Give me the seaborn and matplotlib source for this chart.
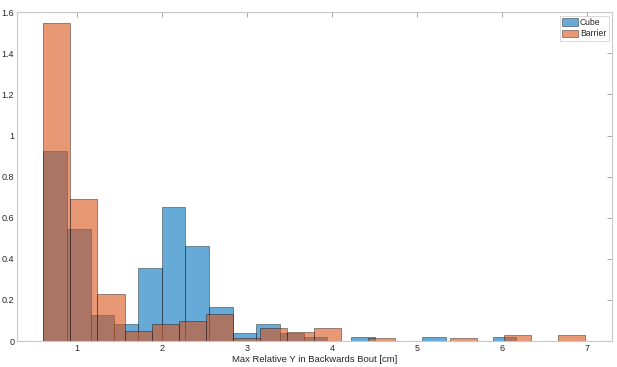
import numpy as np
import pandas as pd
import matplotlib
matplotlib.use('Agg')
import matplotlib.pyplot as plt
import seaborn as sns

# histogram bins (start and width per group), heights (pdf)
bin_start = 0.6
cube_width = 0.2787
barrier_width = 0.319
cube_heights = [0.925, 0.545, 0.127, 0.083, 0.357, 0.651, 0.462, 0.167, 0.040, 0.083,
                0.039, 0.019, 0.0, 0.019, 0.0, 0.0, 0.019, 0.0, 0.0, 0.019]
barrier_heights = [1.546, 0.690, 0.227, 0.047, 0.083, 0.097, 0.131, 0.013, 0.062, 0.045,
                   0.063, 0.0, 0.015, 0.0, 0.0, 0.015, 0.0, 0.031, 0.0, 0.031]
x_ticks = [1, 2, 3, 4, 5, 6, 7]
y_ticks = [0, 0.2, 0.4, 0.6, 0.8, 1, 1.2, 1.4, 1.6]

cube_edges = list(bin_start + cube_width * np.arange(len(cube_heights) + 1))
barrier_edges = list(bin_start + barrier_width * np.arange(len(barrier_heights) + 1))

cube = pd.DataFrame({'x': [(a + b) / 2 for a, b in zip(cube_edges[:-1], cube_edges[1:])],
                     'h': cube_heights})
barrier = pd.DataFrame({'x': [(a + b) / 2 for a, b in zip(barrier_edges[:-1], barrier_edges[1:])],
                        'h': barrier_heights})

sns.set_style('white')
plt.rcParams['font.family'] = ['Liberation Sans', 'DejaVu Sans']

fig = plt.figure(figsize=(6.17, 3.67), dpi=100)
ax = fig.add_axes([0.0276, 0.0708, 0.9644, 0.8957])

blue = (0, 0.447, 0.741)
orange = (0.85, 0.325, 0.098)

sns.histplot(data=cube, x='x', weights='h', bins=cube_edges, stat='count', ax=ax,
             color=blue, alpha=0.6, edgecolor=(0, 0, 0, 0.45), linewidth=0.6, label='Cube')
sns.histplot(data=barrier, x='x', weights='h', bins=barrier_edges, stat='count', ax=ax,
             color=orange, alpha=0.6, edgecolor=(0, 0, 0, 0.45), linewidth=0.6, label='Barrier')

ax.set_xlim(0.29, 7.3)
ax.set_ylim(0, 1.6)
ax.set_xticks(x_ticks)
ax.set_yticks(y_ticks)
ax.set_yticklabels(['0', '0.2', '0.4', '0.6', '0.8', '1', '1.2', '1.4', '1.6'])
ax.set_xlabel('Max Relative Y in Backwards Bout [cm]', fontsize=6.8, color='#262626', labelpad=1.5)
ax.set_ylabel('')

gray = '#c8c8c8'
for s in ax.spines.values():
    s.set_visible(True)
    s.set_color(gray)
    s.set_linewidth(0.8)
ax.tick_params(direction='in', length=3.5, width=0.6, color='#9a9a9a',
               labelsize=6.5, labelcolor='#262626', top=True, right=True, pad=2)

leg = ax.legend(loc='upper right', fontsize=6.2, frameon=True, fancybox=False,
                handlelength=1.9, handleheight=1.0, borderpad=0.25, labelspacing=0.3,
                handletextpad=0.2, borderaxespad=0.4)
leg.get_frame().set_edgecolor(gray)
leg.get_frame().set_linewidth(0.6)

fig.savefig('out.png', dpi=100)
